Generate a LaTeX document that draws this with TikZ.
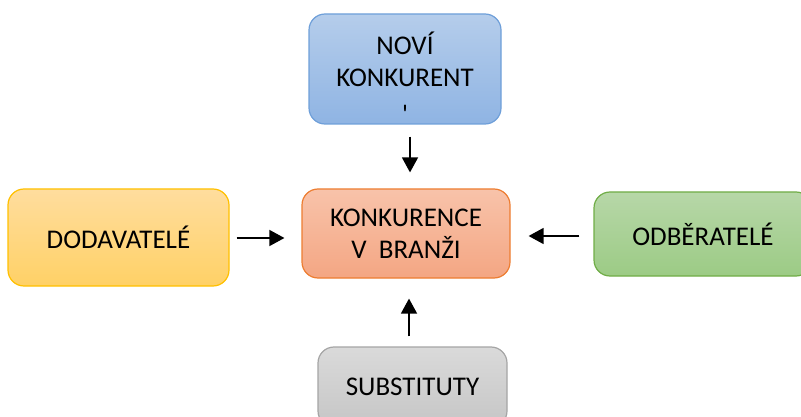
\documentclass[tikz,border=0pt]{standalone}
\usepackage{fontspec}
\setmainfont{Carlito}
\usetikzlibrary{arrows.meta}
\usetikzlibrary{positioning}
\definecolor{bluetop}{HTML}{B5CDEB}
\definecolor{bluebot}{HTML}{8FB4E3}
\definecolor{blueline}{HTML}{6E9FD9}
\definecolor{yeltop}{HTML}{FFDD9E}
\definecolor{yelbot}{HTML}{FFD166}
\definecolor{yelline}{HTML}{FFC000}
\definecolor{redtop}{HTML}{F8C3AA}
\definecolor{redbot}{HTML}{F4A683}
\definecolor{redline}{HTML}{ED7D31}
\definecolor{grntop}{HTML}{B7D7A8}
\definecolor{grnbot}{HTML}{9CCB85}
\definecolor{grnline}{HTML}{70AD47}
\definecolor{grytop}{HTML}{DADADA}
\definecolor{grybot}{HTML}{C6C6C6}
\definecolor{gryline}{HTML}{A5A5A5}

\begin{document}
\begin{tikzpicture}[x=1pt,y=-1pt,>={Triangle[width=16pt,length=15pt]},
		line width=1.5pt,font=\fontsize{27}{32}\selectfont]
		\tikzstyle{box}=[rounded corners=16pt,line width=1.2pt,align=center,inner sep=0pt]
		
		\clip (0,0) rectangle (801,417);
		
		\node[box,draw=blueline,top color=bluetop,bottom color=bluebot,
			minimum width=192pt,minimum height=110pt,
			label={[align=center,yshift=-9pt]center:NOVÍ\\KONKURENT\\[5pt]\XeTeXglyph\XeTeXcharglyph"27}]
			(novi) at (405,69) {};
		\node[box,draw=yelline,top color=yeltop,bottom color=yelbot,
			minimum width=221pt,minimum height=97pt] (dodav) at (118.5,237.5) {DODAVATELÉ};
		\node[box,draw=redline,top color=redtop,bottom color=redbot,
			minimum width=208pt,minimum height=89pt] (konk) at (406,233.5) {KONKURENCE\\V~~BRANŽI};
		\node[box,draw=grnline,top color=grntop,bottom color=grnbot,
			minimum width=218pt,minimum height=84pt] (odber) at (703,234) {ODBĚRATELÉ};
		\node[box,draw=gryline,top color=grytop,bottom color=grybot,
			minimum width=189pt,minimum height=80pt] (subst) at (412.5,387) {SUBSTITUTY};
		
		\draw[->,shorten <=12pt,shorten >=16pt] ([xshift=5pt]novi.south) -- ([xshift=4pt]konk.north);
		\draw[->,shorten <=7pt,shorten >=17pt] (dodav.east |- 0,238) -- (konk.west |- 0,238);
		\draw[->,shorten <=14pt,shorten >=18pt] (odber.west |- 0,236) -- (konk.east |- 0,236);
		\draw[->,shorten <=10pt,shorten >=20pt] (subst.north -| 409,0) -- (konk.south -| 409,0);
\end{tikzpicture}
\end{document}
